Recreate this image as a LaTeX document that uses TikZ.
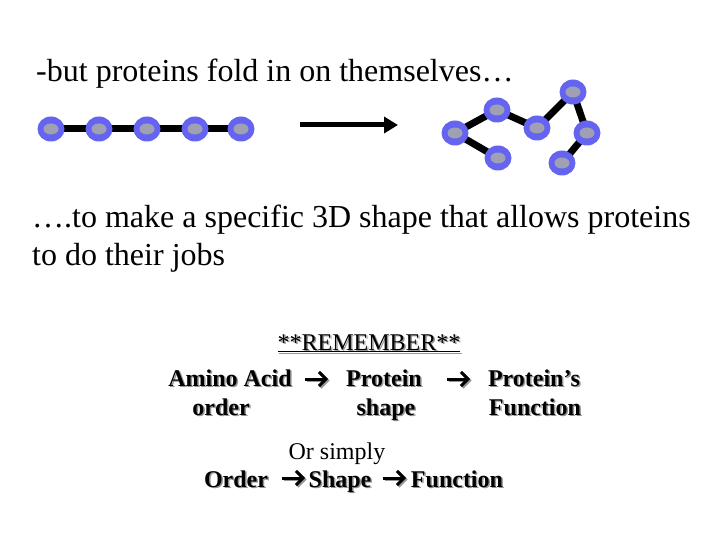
\documentclass[tikz,border=0pt]{standalone}
\usepackage{fontspec}
\setmainfont{Liberation Serif}
\usetikzlibrary{arrows.meta,shapes.geometric}
\pgfdeclarelayer{bg}
\pgfsetlayers{bg,main}
\definecolor{beadout}{RGB}{100,100,240}
\definecolor{beadin}{RGB}{160,160,180}
\definecolor{shadowgray}{RGB}{150,150,150}
\tikzset{
  bead/.style={ellipse, fill=beadout, minimum width=27pt, minimum height=25pt, inner sep=0pt,
    path picture={\fill[beadin] (path picture bounding box.center) ellipse (7.5pt and 5.5pt);}},
  bond/.style={line width=7pt, black},
  big/.style={font=\fontsize{32}{38}\selectfont, inner sep=0pt, anchor=base west},
  mid/.style={font=\fontsize{24}{28}\selectfont, inner sep=0pt, anchor=base},
  midb/.style={font=\fontsize{24}{28}\selectfont\bfseries, inner sep=0pt, anchor=base},
  shad/.style={text=shadowgray},
  tarrow/.style={line width=3pt, -{Straight Barb[length=7pt,width=14pt,line width=3pt]}},
}
\begin{document}
\begin{tikzpicture}[x=1pt,y=-1pt]
\useasboundingbox (0,0) rectangle (720,540);
% title
\node[big] (t1) at (36,82) {-but proteins fold in on themselves…};
% linear chain
\foreach \i/\x in {1/51,2/99,3/147,4/195,5/241} \node[bead] (l\i) at (\x,129) {};
% folded
\node[bead] (f1) at (498,158) {};
\node[bead] (f2) at (455,133) {};
\node[bead] (f3) at (497,110) {};
\node[bead] (f4) at (537,128) {};
\node[bead] (f5) at (573,92) {};
\node[bead] (f6) at (587,133) {};
\node[bead] (f7) at (562,163) {};
\begin{pgfonlayer}{bg}
\foreach \a/\b in {l1/l2,l2/l3,l3/l4,l4/l5,f1/f2,f2/f3,f3/f4,f4/f5,f5/f6,f6/f7}
  \draw[bond] (\a.center) -- (\b.center);
\end{pgfonlayer}
% main arrow
\coordinate (a1) at (300,125);
\coordinate (a2) at (398,125);
\draw[line width=5pt, -{Triangle[length=14pt,width=16pt]}] (a1) -- (a2);
% text 2
\node[big] (t2) at (32,227) {\ldots.to make a specific 3D shape that allows proteins};
\node[big] (t3) at (32,265) {to do their jobs};
% remember
\node[mid,shad] at (370.5,351.5) {\underline{**REMEMBER**}};
\node[mid] (rem) at (369,350) {\underline{**REMEMBER**}};
\foreach \n/\x/\y/\t in {aa/230/386/Amino Acid, or/221/415/order, pr/384/386/Protein, sh/386/415/shape, ps/534/386/Protein’s, fn/535/415/Function}{
  \node[midb,shad] at (\x+1.5,\y+1.5) {\t};
  \node[midb] (\n) at (\x,\y) {\t};
}
\node[mid] (os) at (337,459) {Or simply};
\foreach \n/\x/\t in {o/236/Order, s/340/Shape, fu/457/Function}{
  \node[midb,shad] at (\x+1.5,488.5) {\t};
  \node[midb] (\n) at (\x,487) {\t};
}
% small arrows
\foreach \x/\y in {305/379, 447/379, 282/478, 383/478}{
  \draw[tarrow, shadowgray] (\x+1.5,\y+1.5) -- ++(23,0);
  \draw[tarrow] (\x,\y) -- ++(23,0);
}
\end{tikzpicture}
\end{document}
